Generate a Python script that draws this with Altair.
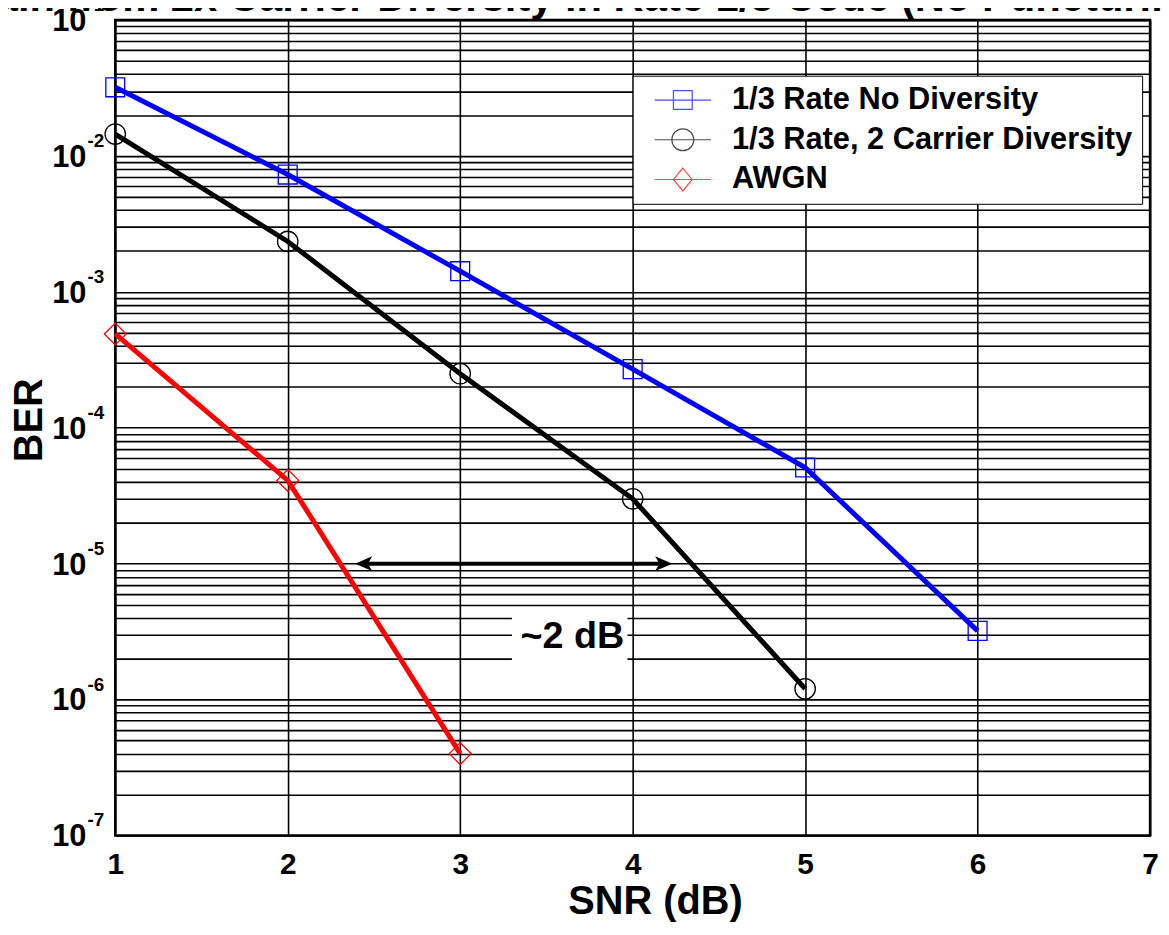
import altair as alt
import pandas as pd

# ---------------- data ----------------
series_names = ["1/3 Rate No Diversity", "1/3 Rate, 2 Carrier Diversity", "AWGN"]
series_colors = ["#0000ff", "#000000", "#ff0000"]
series_shapes = ["square", "circle", "diamond"]
series_sizes = [361, 484, 484]

snr_no_div = [1, 2, 3, 4, 5, 6]
ber_no_div = [3.2e-2, 7.3e-3, 1.42e-3, 2.7e-4, 5.1e-5, 3.2e-6]

snr_div = [1, 2, 3, 4, 5]
ber_div = [1.45e-2, 2.35e-3, 2.5e-4, 3.0e-5, 1.2e-6]

snr_awgn = [1, 2, 3]
ber_awgn = [4.9e-4, 4.1e-5, 4.0e-7]

x_ticks = [1, 2, 3, 4, 5, 6, 7]
y_exponents = [-1, -2, -3, -4, -5, -6, -7]
y_mantissas = [1, 2, 3, 4, 5, 6, 7, 8, 9]

arrow_start = [2.44]
arrow_end = [4.18]
arrow_level = [1.0e-5]
arrow_head_x = [2.44, 4.18]
arrow_head_kind = ["left", "right"]

annot_text = ["~2 dB"]
annot_x = [3.65]
annot_y = [2.86e-6]
annot_box_x = [3.30]
annot_box_x2 = [3.97]
annot_box_y = [1.91e-6]
annot_box_y2 = [4.08e-6]

title_text = ["Gain from 2x Carrier Diversity in Rate 1/3 Code (No Puncturing)"]
x_title = ["SNR (dB)"]
y_title = ["BER"]

FONT = "Liberation Sans"

# ---------------- tables ----------------
rows = []
for name, xs, ys in [(series_names[0], snr_no_div, ber_no_div),
                     (series_names[1], snr_div, ber_div),
                     (series_names[2], snr_awgn, ber_awgn)]:
    for a, b in zip(xs, ys):
        rows.append({"series": name, "snr": a, "ber": b})
df = pd.DataFrame(rows)

grid_vals = [m * 10.0 ** e for e in range(-7, -1) for m in y_mantissas] + [0.1]
lab_df = pd.DataFrame({"ber": [10.0 ** e for e in y_exponents],
                       "base": ["10"] * len(y_exponents),
                       "exp": [str(e) for e in y_exponents]})

arrow_df = pd.DataFrame({"snr": arrow_start, "snr2": arrow_end, "ber": arrow_level})
head_df = pd.DataFrame({"snr": arrow_head_x, "ber": arrow_level * 2, "kind": arrow_head_kind})
annot_df = pd.DataFrame({"snr": annot_x, "ber": annot_y, "t": annot_text})
box_df = pd.DataFrame({"snr": annot_box_x, "snr2": annot_box_x2,
                       "ber": annot_box_y, "ber2": annot_box_y2})
legend_df = pd.DataFrame({"lseries": series_names, "snr": [0, 0, 0], "ber": [1e-3] * 3})
title_df = pd.DataFrame({"t": title_text})
xt_df = pd.DataFrame({"t": x_title})
yt_df = pd.DataFrame({"t": y_title})

# ---------------- scales / axes ----------------
xscale = alt.Scale(domain=[1, 7], nice=False, zero=False)
yscale = alt.Scale(type="log", domain=[1e-7, 1e-1], nice=False)
xaxis = alt.Axis(values=x_ticks, grid=True, gridColor="black", gridWidth=1.6, gridOpacity=1,
                 domain=False, ticks=False, labelFont=FONT, labelFontSize=30,
                 labelFontWeight="bold", labelColor="black", labelPadding=14,
                 labelFlush=False, title=None, format="d")
yaxis = alt.Axis(values=grid_vals, grid=True, gridColor="black", gridWidth=1.6, gridOpacity=1,
                 domain=False, ticks=False, labels=False, title=None)


def X(f="snr"):
    return alt.X(f"{f}:Q", scale=xscale, axis=xaxis)


def Y(f="ber"):
    return alt.Y(f"{f}:Q", scale=yscale, axis=yaxis)


color_scale = alt.Scale(domain=series_names, range=series_colors)

box = alt.Chart(box_df).mark_rect(color="white").encode(
    x=X(), x2="snr2:Q", y=Y(), y2="ber2:Q")

lines = alt.Chart(df).mark_line(strokeWidth=5).encode(
    x=X(), y=Y(),
    color=alt.Color("series:N", scale=color_scale, legend=None),
    detail="series:N")

points = alt.Chart(df).mark_point(filled=False, strokeWidth=1.3, opacity=1).encode(
    x=X(), y=Y(),
    color=alt.Color("series:N", scale=color_scale, legend=None),
    shape=alt.Shape("series:N", scale=alt.Scale(domain=series_names, range=series_shapes), legend=None),
    size=alt.Size("series:N", scale=alt.Scale(domain=series_names, range=series_sizes), legend=None))

arrow = alt.Chart(arrow_df).mark_rule(color="black", strokeWidth=4).encode(
    x=X(), x2="snr2:Q", y=Y())

heads = alt.Chart(head_df).mark_point(filled=True, color="black", opacity=1, size=300).encode(
    x=X(), y=Y(),
    shape=alt.Shape("kind:N", scale=alt.Scale(
        domain=arrow_head_kind,
        range=["M-1,0L1,-0.85L0.5,0L1,0.85Z", "M1,0L-1,-0.85L-0.5,0L-1,0.85Z"]), legend=None))

annot = alt.Chart(annot_df).mark_text(font=FONT, fontSize=38, fontWeight="bold",
                                      color="black", baseline="middle", align="center").encode(
    x=X(), y=Y(), text="t:N")

ylab_base = alt.Chart(lab_df).mark_text(font=FONT, fontSize=31, fontWeight="bold", color="black",
                                        align="right", baseline="middle", dy=2).encode(
    x=alt.value(-29), y=Y(), text="base:N")
ylab_exp = alt.Chart(lab_df).mark_text(font=FONT, fontSize=19, fontWeight="bold", color="black",
                                       align="left", baseline="middle", dy=-15).encode(
    x=alt.value(-28), y=Y(), text="exp:N")

legend_paths = [
    "M-2.7,0H2.7M-0.9,-0.9H0.9V0.9H-0.9Z",
    "M-2.7,0H2.7M-1.05,0A1.05,1.05,0,1,1,1.05,0A1.05,1.05,0,1,1,-1.05,0Z",
    "M-2.7,0H2.7M0,-1.1L0.9,0L0,1.1L-0.9,0Z",
]
leg = alt.Legend(orient="none", legendX=521, legendY=56, title=None,
                 symbolSize=441, symbolStrokeWidth=1.2, symbolFillColor="transparent",
                 labelFont=FONT, labelFontSize=31, labelFontWeight="bold", labelColor="black",
                 labelLimit=800, padding=9, rowPadding=8, symbolOffset=26, labelOffset=34,
                 strokeColor="black", fillColor="white", cornerRadius=0)
legend_layer = alt.Chart(legend_df).mark_point(filled=False, clip=True, strokeWidth=1.2).encode(
    x=X(), y=Y(),
    color=alt.Color("lseries:N", scale=alt.Scale(domain=series_names, range=series_colors), legend=leg),
    shape=alt.Shape("lseries:N", scale=alt.Scale(domain=series_names, range=legend_paths), legend=leg))

title = alt.Chart(title_df).mark_text(font=FONT, fontSize=42, fontWeight="bold", color="black",
                                      align="left", baseline="alphabetic").encode(
    x=alt.value(-154), y=alt.value(-9), text="t:N")
xtitle = alt.Chart(xt_df).mark_text(font=FONT, fontSize=40, fontWeight="bold", color="black",
                                    align="center", baseline="middle").encode(
    x=alt.value(544), y=alt.value(888), text="t:N")
ytitle = alt.Chart(yt_df).mark_text(font=FONT, fontSize=40, fontWeight="bold", color="black",
                                    align="center", baseline="middle", angle=270).encode(
    x=alt.value(-86), y=alt.value(403), text="t:N")

chart = alt.layer(
    box, lines, points, arrow, heads, annot, ylab_base, ylab_exp, legend_layer,
    title, xtitle, ytitle
).resolve_scale(
    color="independent", shape="independent", size="independent"
).properties(
    width=1042, height=821,
    autosize=alt.AutoSizeParams(type="none"),
    padding={"left": 108, "top": 9, "right": 11, "bottom": 84},
    background="white",
).configure_view(stroke="black", strokeWidth=2.5)

chart.save("out.html", embed_options={"renderer": "svg", "actions": False})
